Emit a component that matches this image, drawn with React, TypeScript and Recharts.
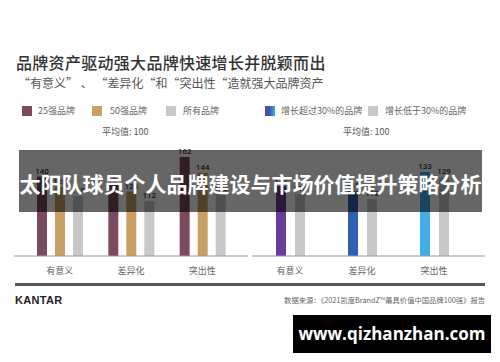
import { Bar, BarChart, Cell, LabelList, XAxis, YAxis } from 'recharts'

const categories = ['有意义', '差异化', '突出性']
const top25 = [140, 133, 162]
const top50 = [128, 123, 144]
const allBrands = [118, 112, 120]
const growthHigh = [122, 118, 133]
const growthLow = [116, 112, 129]

const leftLegend = ['25强品牌', '50强品牌', '所有品牌']
const rightLegend = ['增长超过30%的品牌', '增长低于30%的品牌']

const leftData = categories.map((name, i) => ({ name, top25: top25[i], top50: top50[i], all: allBrands[i] }))
const rightData = categories.map((name, i) => ({ name, high: growthHigh[i], low: growthLow[i] }))

const MAROON = '#7b4a5e'
const GOLD = '#c8a064'
const GRAY = '#c8c8c8'
const growthColors = ['#6a3d9a', '#2f5fb3', '#42ade6']

const cjk = '"Noto Sans CJK SC", "Noto Sans", sans-serif'

const abs = (left: number, top: number, extra: React.CSSProperties = {}): React.CSSProperties => ({
  position: 'absolute',
  left,
  top,
  whiteSpace: 'nowrap',
  fontFamily: cjk,
  ...extra,
})

const tick = { fontSize: 9, fill: '#666', fontFamily: cjk }
const valueLabel = { fontSize: 8, fill: '#333', fontFamily: 'Roboto, sans-serif', fontWeight: 500 }

const Swatch = ({ left, bg }: { left: number; bg: string }) => (
  <div style={{ position: 'absolute', left, top: 106, width: 10, height: 10, background: bg }} />
)

export default function App() {
  return (
    <div style={{ position: 'absolute', left: 0, top: 0, width: 500, height: 362, background: '#fff', overflow: 'hidden' }}>
      <div style={abs(16, 54, { fontSize: 16, lineHeight: '16px', color: '#333', fontWeight: 500, letterSpacing: 0.3 })}>
        品牌资产驱动强大品牌快速增长并脱颖而出
      </div>
      <div style={abs(18, 77, { fontSize: 12, lineHeight: '12px', color: '#555' })}>
        “有意义” 、 “差异化“和“突出性“造就强大品牌资产
      </div>

      <Swatch left={22} bg={MAROON} />
      <div style={abs(38, 106, { fontSize: 9, lineHeight: '10px', color: '#666' })}>{leftLegend[0]}</div>
      <Swatch left={92} bg={GOLD} />
      <div style={abs(110, 106, { fontSize: 9, lineHeight: '10px', color: '#666' })}>{leftLegend[1]}</div>
      <Swatch left={166} bg={GRAY} />
      <div style={abs(183, 106, { fontSize: 9, lineHeight: '10px', color: '#666' })}>{leftLegend[2]}</div>
      <Swatch left={265} bg={`linear-gradient(90deg, ${growthColors[0]}, ${growthColors[1]}, ${growthColors[2]})`} />
      <div style={abs(281, 106, { fontSize: 9, lineHeight: '10px', color: '#666' })}>{rightLegend[0]}</div>
      <Swatch left={368} bg={GRAY} />
      <div style={abs(385, 106, { fontSize: 9, lineHeight: '10px', color: '#666' })}>{rightLegend[1]}</div>

      <div style={abs(102, 127, { fontSize: 9, lineHeight: '10px', color: '#555' })}>平均值: 100</div>
      <div style={abs(343, 127, { fontSize: 9, lineHeight: '10px', color: '#555' })}>平均值: 100</div>

      <div style={{ position: 'absolute', left: 0, top: 0 }}>
        <BarChart width={260} height={300} data={leftData} margin={{ top: 150, right: 12, bottom: 14, left: 14 }} barSize={10} barGap={8}>
          <XAxis dataKey="name" height={30} tickLine={false} axisLine={{ stroke: '#999' }} tick={tick} tickMargin={6} padding={{ left: 10, right: 10 }} />
          <YAxis hide domain={[50, 170]} />
          <Bar dataKey="top25" fill={MAROON} isAnimationActive={false}>
            <LabelList dataKey="top25" position="top" offset={3} style={valueLabel} />
          </Bar>
          <Bar dataKey="top50" fill={GOLD} isAnimationActive={false}>
            <LabelList dataKey="top50" position="top" offset={3} style={valueLabel} />
          </Bar>
          <Bar dataKey="all" fill={GRAY} isAnimationActive={false}>
            <LabelList dataKey="all" position="top" offset={3} style={valueLabel} />
          </Bar>
        </BarChart>
      </div>

      <div style={{ position: 'absolute', left: 0, top: 0 }}>
        <BarChart width={500} height={300} data={rightData} margin={{ top: 150, right: 15, bottom: 14, left: 252 }} barSize={10} barGap={9}>
          <XAxis dataKey="name" height={30} tickLine={false} axisLine={{ stroke: '#999' }} tick={tick} tickMargin={6} padding={{ left: 2, right: 15 }} />
          <YAxis hide domain={[68, 150]} />
          <Bar dataKey="high" isAnimationActive={false}>
            {rightData.map((d, i) => (
              <Cell key={d.name} fill={growthColors[i]} />
            ))}
            <LabelList dataKey="high" position="top" offset={3} style={valueLabel} />
          </Bar>
          <Bar dataKey="low" fill={GRAY} isAnimationActive={false}>
            <LabelList dataKey="low" position="top" offset={3} style={valueLabel} />
          </Bar>
        </BarChart>
      </div>

      <div style={{ position: 'absolute', left: 15, top: 283, width: 470, height: 2.5, background: '#555' }} />
      <div style={abs(15, 294, { fontSize: 11, lineHeight: '13px', color: '#222', fontWeight: 700, fontFamily: 'Arial, "Liberation Sans", sans-serif', letterSpacing: 0.3 })}>
        KANTAR
      </div>
      <div style={{ position: 'absolute', right: 15, top: 295, whiteSpace: 'nowrap', fontFamily: cjk, fontSize: 7.3, lineHeight: '10px', color: '#666' }}>
        数据来源：《2021凯度BrandZ™最具价值中国品牌100强》报告
      </div>

      <div style={{ position: 'absolute', left: 19, top: 150, width: 463, height: 62, background: 'rgba(0,0,0,0.6)' }} />
      <div style={abs(19, 172, { width: 463, textAlign: 'center', fontSize: 21, lineHeight: '22px', color: '#fff', fontWeight: 700 })}>
        太阳队球员个人品牌建设与市场价值提升策略分析
      </div>

      <div style={{ position: 'absolute', left: 293, top: 315, width: 198, height: 38, background: '#000' }} />
      <div style={abs(293, 323, { width: 198, textAlign: 'center', fontSize: 17, lineHeight: '22px', color: '#fff', fontWeight: 700, fontFamily: '"Open Sans", sans-serif' })}>
        www.qizhanzhan.com
      </div>
    </div>
  )
}
